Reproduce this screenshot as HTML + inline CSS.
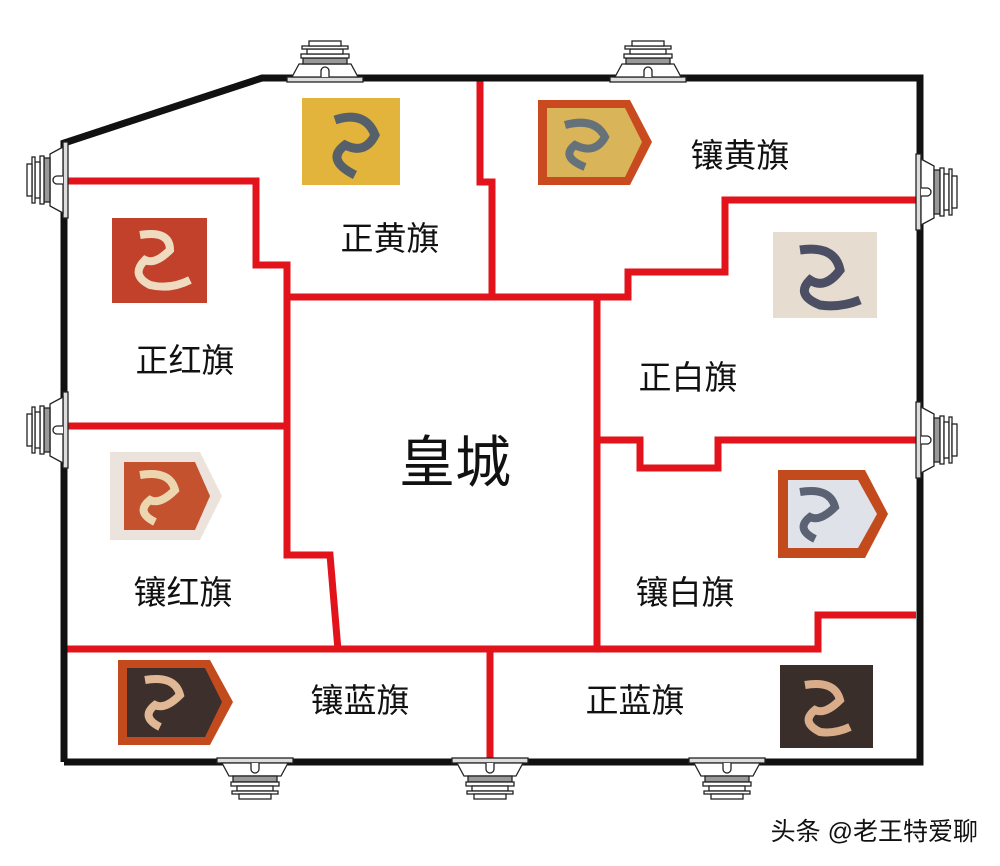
<!DOCTYPE html>
<html><head><meta charset="utf-8"><style>
html,body{margin:0;padding:0;background:#fff;width:1000px;height:866px;overflow:hidden}
svg{display:block}
text{font-family:"Liberation Sans","Noto Sans CJK SC",sans-serif;fill:#111}
</style></head><body>
<svg width="1000" height="866" viewBox="0 0 1000 866" xmlns="http://www.w3.org/2000/svg">
<defs>
<g id="gate" stroke="#222" stroke-width="1.3" fill="#fff">
<rect x="-38" y="-3" width="76" height="5" fill="#ddd"/>
<path d="M-33,-3 L-26,-16 L26,-16 L33,-3 Z"/>
<path d="M-4,-3 L-4,-9 A4,4 0 0 1 4,-9 L4,-3" fill="#fff"/>
<rect x="-22" y="-22" width="44" height="6" fill="#999"/>
<rect x="-24" y="-26" width="48" height="4"/>
<rect x="-18" y="-31" width="36" height="5"/>
<rect x="-23" y="-34" width="46" height="3"/>
<rect x="-16" y="-39" width="32" height="5"/>
</g>
</defs>
<rect width="1000" height="866" fill="#fff"/>
<g stroke="#e2131b" stroke-width="7" fill="none" stroke-linejoin="miter">
<polyline points="66,181 256,181 256,265 287,265 287,555 330,555 338,650"/>
<polyline points="287,297 597,297 597,650"/>
<polyline points="480,80 480,182 492,182 492,297"/>
<polyline points="597,297 628,297 628,272 725,272 725,200 916,200"/>
<polyline points="597,440 640,440 640,468 718,468 718,440 916,440"/>
<line x1="66" y1="426" x2="287" y2="426"/>
<polyline points="66,649 818,649 818,615 916,615"/>
<line x1="490" y1="649" x2="490" y2="760"/>
</g>
<g stroke="#111" stroke-width="7" fill="none" stroke-linejoin="miter">
<polyline points="64,762 64,143 262,78 920,78 920,762 64,762"/>
</g>
<use href="#gate" transform="translate(325,80)"/>
<use href="#gate" transform="translate(648,80)"/>
<use href="#gate" transform="translate(66,180) rotate(-90)"/>
<use href="#gate" transform="translate(66,430) rotate(-90)"/>
<use href="#gate" transform="translate(918,192) rotate(90)"/>
<use href="#gate" transform="translate(918,440) rotate(90)"/>
<use href="#gate" transform="translate(255,760) rotate(180)"/>
<use href="#gate" transform="translate(490,760) rotate(180)"/>
<use href="#gate" transform="translate(727,760) rotate(180)"/>
<rect x="302" y="98" width="98" height="87" fill="#e2b43c"/>
<path d="M335,120 q30,-10 40,15 q-10,20 -30,10 q-20,15 10,30" stroke="#56606a" stroke-width="9" fill="none"/>
<path d="M538,100 L630,100 L652,142 L630,185 L538,185 Z" fill="#c94a1e"/>
<path d="M547,108 L625,108 L642,142 L625,177 L547,177 Z" fill="#d9b458"/>
<path d="M565,125 q30,-8 40,12 q-10,18 -30,8 q-15,12 10,22" stroke="#66727a" stroke-width="8" fill="none"/>
<rect x="112" y="218" width="95" height="85" fill="#c2412a"/>
<path d="M140,235 q30,-5 30,15 q-15,15 -25,10 q-15,15 5,25 q20,5 40,-5" stroke="#eedbc0" stroke-width="8" fill="none"/>
<rect x="773" y="232" width="104" height="86" fill="#e6dcd0"/>
<path d="M800,250 q35,-5 40,20 q-15,20 -30,10 q-15,15 10,25 q20,3 40,-5" stroke="#4c4f63" stroke-width="9" fill="none"/>
<path d="M110,452 L200,452 L222,496 L200,540 L110,540 Z" fill="#ece3dc"/>
<path d="M124,462 L195,462 L210,496 L195,530 L124,530 Z" fill="#c4522e"/>
<path d="M140,475 q30,-5 35,15 q-15,15 -25,10 q-15,12 5,22" stroke="#ecd6b0" stroke-width="8" fill="none"/>
<path d="M778,470 L865,470 L888,514 L865,558 L778,558 Z" fill="#c34a1d"/>
<path d="M788,480 L858,480 L877,514 L858,548 L788,548 Z" fill="#dfe2e8"/>
<path d="M800,492 q30,-5 35,15 q-15,15 -25,10 q-15,12 5,22" stroke="#5a6274" stroke-width="8" fill="none"/>
<path d="M118,660 L210,660 L233,702 L210,745 L118,745 Z" fill="#c34a1d"/>
<path d="M127,668 L205,668 L222,702 L205,737 L127,737 Z" fill="#3d2f2c"/>
<path d="M145,680 q30,-5 35,15 q-15,15 -25,10 q-15,12 5,22" stroke="#e0b896" stroke-width="8" fill="none"/>
<rect x="780" y="665" width="93" height="83" fill="#3a2e2a"/>
<path d="M805,685 q30,-5 35,15 q-15,15 -25,10 q-15,12 5,22 q15,2 30,-5" stroke="#d9ad8a" stroke-width="8" fill="none"/>
<g font-size="33" text-anchor="middle">
<text x="390" y="250">正黄旗</text>
<text x="740" y="167">镶黄旗</text>
<text x="185" y="372">正红旗</text>
<text x="688" y="389">正白旗</text>
<text x="183" y="604">镶红旗</text>
<text x="685" y="604">镶白旗</text>
<text x="360" y="712">镶蓝旗</text>
<text x="635" y="712">正蓝旗</text>
</g>
<text x="455" y="482" font-size="56" text-anchor="middle">皇城</text>
<text x="978" y="840" font-size="25" text-anchor="end" fill="#222">头条 @老王特爱聊</text>
</svg>
</body></html>
